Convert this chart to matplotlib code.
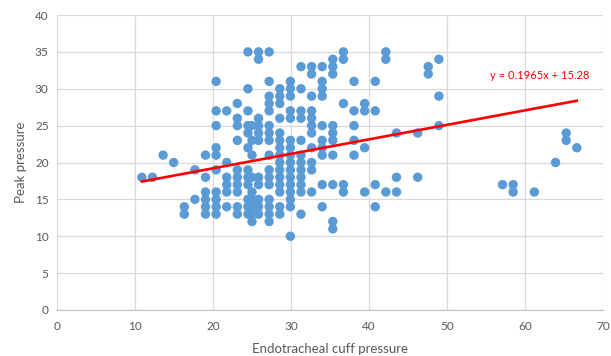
import numpy as np
import matplotlib
matplotlib.use("Agg")
import matplotlib.pyplot as plt

######################### Data ############################
# cuff pressure columns (x) and the peak pressures read at each column (y)
cuff_cols = [10.88, 12.24, 13.6, 14.96, 16.32, 17.68, 19.04, 20.4, 21.76, 23.12,
             24.48, 25.0, 25.84, 27.2, 28.56, 29.92, 31.28, 32.64, 34.0, 35.36,
             36.72, 38.08, 39.44, 40.8, 42.16, 43.52, 46.24, 47.6, 48.96,
             57.12, 58.48, 61.2, 63.92, 65.28, 66.64]
peak_cols = [
    [18],
    [18],
    [21],
    [20],
    [14, 13],
    [19, 15],
    [21, 18, 16, 15, 14, 13],
    [31, 27, 25, 22, 21, 19, 16, 15, 14, 13],
    [27, 20, 18, 17, 16, 14],
    [28, 26, 25, 23, 19, 18, 17, 16, 14, 13],
    [35, 30, 27, 25, 24, 22, 19, 18, 17, 15, 14, 13],
    [25, 23, 21, 18, 16, 15, 14, 13, 12],
    [35, 34, 26, 25, 24, 23, 18, 17, 15, 14, 13],
    [35, 31, 29, 28, 27, 25, 24, 23, 21, 19, 18, 17, 15, 14, 13, 12],
    [30, 29, 28, 26, 24, 23, 22, 21, 20, 19, 18, 17, 16, 14, 13],
    [31, 30, 29, 27, 26, 23, 22, 21, 20, 19, 18, 17, 16, 15, 14, 10],
    [33, 30, 27, 26, 23, 21, 20, 19, 18, 17, 16, 13],
    [33, 32, 29, 27, 26, 25, 24, 22, 20, 19, 16],
    [33, 31, 30, 29, 25, 23, 22, 21, 17, 14],
    [34, 33, 32, 25, 24, 23, 21, 17, 12, 11],
    [35, 34, 28, 17, 16],
    [31, 27, 25, 23, 21],
    [28, 27, 22, 16],
    [31, 27, 17, 14],
    [35, 34, 16],
    [24, 18, 16],
    [24, 18],
    [33, 32],
    [34, 29, 25],
    [17],
    [17, 16],
    [16],
    [20],
    [24, 23],
    [22],
]

# trendline as printed on the chart
slope = 0.1965
intercept = 15.28
eq_label = "y = 0.1965x + 15.28"

x_ticks = [0, 10, 20, 30, 40, 50, 60, 70]
y_ticks = [0, 5, 10, 15, 20, 25, 30, 35, 40]

######################### Plot ############################
x = []
y = []
for cx, vals in zip(cuff_cols, peak_cols):
    for v in vals:
        x.append(cx)
        y.append(v)
x = np.array(x)
y = np.array(y)

plt.rcParams['font.family'] = ['Lato', 'DejaVu Sans']

fig = plt.figure(figsize=(6.11, 3.56), dpi=100)
ax = fig.add_axes([57 / 611, 46 / 356, 546 / 611, 295 / 356])

ax.scatter(x, y, s=46, color="#5B9BD5", edgecolors="none", zorder=3)

xl = np.array([x.min(), x.max()])
ax.plot(xl, slope * xl + intercept, color="#FF0000", lw=1.9, zorder=4)
ax.text(68.2, 31.75, eq_label, color="#FF0000", fontsize=8,
        ha="right", va="center")

ax.set_xlim(0, 70)
ax.set_ylim(0, 40)
ax.set_xticks(x_ticks)
ax.set_yticks(y_ticks)
ax.grid(True, color="#D9D9D9", lw=0.9)
ax.set_axisbelow(True)
for side in ["top", "right", "left"]:
    ax.spines[side].set_visible(False)
ax.spines["bottom"].set_color("#BFBFBF")
ax.tick_params(length=0, labelsize=8.5, colors="#595959")
ax.tick_params(axis="x", pad=8)
ax.tick_params(axis="y", pad=6)

ax.set_xlabel("Endotracheal cuff pressure", fontsize=9.5, color="#595959", labelpad=8)
ax.set_ylabel("Peak pressure", fontsize=9.5, color="#595959", labelpad=6)

plt.savefig("out.png", dpi=100)
